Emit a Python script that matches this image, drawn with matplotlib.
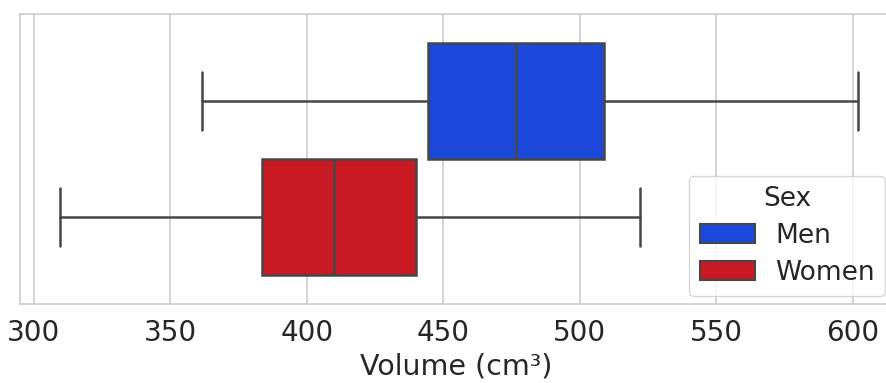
import matplotlib
matplotlib.use("Agg")
import matplotlib.pyplot as plt
import seaborn as sns
from matplotlib.patches import Patch

# five-number summaries (cm^3)
sexes = ["Men", "Women"]
whislo = [361.5, 309.5]
q1 = [444.3, 383.5]
med = [476.6, 409.9]
q3 = [508.8, 439.9]
whishi = [602, 522]

sns.set_theme(style="whitegrid")
plt.rcParams['font.family'] = ['DejaVu Sans']

colors = ["#1d48dc", "#c71a24"]
edge = "#474747"

W, H = 887, 383
fig = plt.figure(figsize=(W / 100, H / 100), dpi=100)
# axes runs a little past the right edge (reference is cropped there)
left, right, top, bottom = 20, 893, 14, 304
ax = fig.add_axes([left / W, 1 - bottom / H, (right - left) / W, (bottom - top) / H])

stats = []
for i, s in enumerate(sexes):
    stats.append(dict(label=s, whislo=whislo[i], q1=q1[i], med=med[i],
                      q3=q3[i], whishi=whishi[i], fliers=[]))

positions = [-0.2, 0.2]
bp = ax.bxp(stats, positions=positions, widths=0.4, vert=False,
            patch_artist=True, showfliers=False, manage_ticks=False,
            boxprops=dict(edgecolor=edge, linewidth=1.8),
            medianprops=dict(color=edge, linewidth=1.8),
            whiskerprops=dict(color=edge, linewidth=1.8),
            capprops=dict(color=edge, linewidth=1.8),
            capwidths=0.2)
for patch, c in zip(bp['boxes'], colors):
    patch.set_facecolor(c)

ax.set_ylim(0.5, -0.5)
ax.set_yticks([])
ax.set_xlim(294.9, 614.7)
ax.set_xticks([300, 350, 400, 450, 500, 550, 600])
ax.tick_params(axis='x', labelsize=20, pad=5)
ax.set_xlabel("Volume (cm³)", fontsize=20.5, labelpad=4)
ax.grid(axis='y', visible=False)
ax.grid(axis='x', color="#cccccc", linewidth=1.2)
for sp in ax.spines.values():
    sp.set_color("#cccccc")
    sp.set_linewidth(1.2)
ax.spines['right'].set_visible(False)

handles = [Patch(facecolor=colors[i], edgecolor=edge, linewidth=1.5, label=s)
           for i, s in enumerate(sexes)]
ax.legend(handles=handles, title="Sex", loc="lower right", fontsize=19,
          title_fontsize=19, frameon=True, borderaxespad=0.3,
          handlelength=2.1, handleheight=0.75, handletextpad=0.75,
          labelspacing=0.4)

fig.savefig("out.png", dpi=100)
